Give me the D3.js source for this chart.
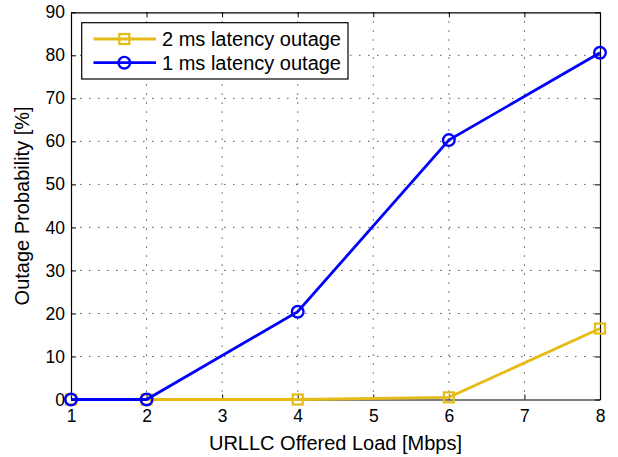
<!DOCTYPE html>
<html><head><meta charset="utf-8">
<script src="https://cdn.jsdelivr.net/npm/d3@7"></script>
<style>body{margin:0;background:#fff;} svg{display:block;} text{font-family:"Liberation Sans",Arial,sans-serif;}</style>
</head><body>
<svg id="chart" width="618" height="457"></svg>
<script>
const loads = [1, 2, 4, 6, 8];
const outage2ms = [0, 0, 0, 0.5, 16.5];
const outage1ms = [0, 0, 20.4, 60.3, 80.6];
const xTicks = [1, 2, 3, 4, 5, 6, 7, 8];
const yTicks = [0, 10, 20, 30, 40, 50, 60, 70, 80, 90];
const seriesNames = ["2 ms latency outage", "1 ms latency outage"];

const svg = d3.select("#chart");
const L = 71, R = 600, T = 12.3, B = 399.5;
const x = d3.scaleLinear().domain([1, 8]).range([L, R]);
const y = d3.scaleLinear().domain([0, 90]).range([B, T]);
const YEL = "#E6BB18", BLUE = "#0000FF";
const FONT = '"Liberation Sans",Arial,sans-serif';

// grid
const grid = svg.append("g");
grid.selectAll(".gx").data(xTicks.slice(1, -1)).enter().append("line")
  .attr("x1", d => x(d)).attr("x2", d => x(d)).attr("y1", T).attr("y2", B)
  .attr("stroke", "#555").attr("stroke-width", 1).attr("stroke-dasharray", "1.5,7.5");
grid.selectAll(".gy").data(yTicks.slice(1, -1)).enter().append("line")
  .attr("y1", d => y(d)).attr("y2", d => y(d)).attr("x1", L).attr("x2", R)
  .attr("stroke", "#555").attr("stroke-width", 1).attr("stroke-dasharray", "1.5,7.5");

// axes
const xb = svg.append("g").attr("transform", `translate(0,${B})`)
  .call(d3.axisBottom(x).tickValues(xTicks).tickFormat(d3.format("d")).tickSizeInner(-5).tickSizeOuter(0).tickPadding(10));
const xt = svg.append("g").attr("transform", `translate(0,${T})`)
  .call(d3.axisTop(x).tickValues(xTicks).tickFormat("").tickSizeInner(-5).tickSizeOuter(0));
const yl = svg.append("g").attr("transform", `translate(${L},0)`)
  .call(d3.axisLeft(y).tickValues(yTicks).tickFormat(d3.format("d")).tickSizeInner(-5).tickSizeOuter(0).tickPadding(6));
const yr = svg.append("g").attr("transform", `translate(${R},0)`)
  .call(d3.axisRight(y).tickValues(yTicks).tickFormat("").tickSizeInner(-5).tickSizeOuter(0));
[xb, xt, yl, yr].forEach(g => {
  g.selectAll("path").attr("stroke", "#000").attr("stroke-width", 1.2);
  g.selectAll("line").attr("stroke", "#000");
  g.selectAll("text").attr("fill", "#000").style("font-size", "17.5px").style("font-family", FONT);
});
xb.selectAll("text").attr("dy", "0.71em");

// axis labels
svg.append("text").attr("x", (L + R) / 2).attr("y", 449.5).attr("text-anchor", "middle")
  .style("font-size", "20px").text("URLLC Offered Load [Mbps]");
svg.append("text").attr("transform", `translate(28.5,${(T + B) / 2}) rotate(-90)`).attr("text-anchor", "middle")
  .style("font-size", "20px").text("Outage Probability [%]");

// series
const line = d3.line().x((d, i) => x(loads[i])).y(d => y(d));
svg.append("path").datum(outage2ms).attr("d", line).attr("fill", "none").attr("stroke", YEL).attr("stroke-width", 2.8);
svg.selectAll(".sq").data(outage2ms).enter().append("rect")
  .attr("x", (d, i) => x(loads[i]) - 5).attr("y", d => y(d) - 5).attr("width", 10).attr("height", 10)
  .attr("fill", "none").attr("stroke", YEL).attr("stroke-width", 2.2);
svg.append("path").datum(outage1ms).attr("d", line).attr("fill", "none").attr("stroke", BLUE).attr("stroke-width", 2.8);
svg.selectAll(".ci").data(outage1ms).enter().append("circle")
  .attr("cx", (d, i) => x(loads[i])).attr("cy", d => y(d)).attr("r", 5.8)
  .attr("fill", "none").attr("stroke", BLUE).attr("stroke-width", 2.4);

// legend
const lg = svg.append("g");
lg.append("rect").attr("x", 81.7).attr("y", 22.7).attr("width", 266.3).attr("height", 56.3)
  .attr("fill", "#fff").attr("stroke", "#000").attr("stroke-width", 1.2);
const rows = [39, 62.7];
const cols = [YEL, BLUE];
seriesNames.forEach((name, i) => {
  lg.append("line").attr("x1", 93.5).attr("x2", 156).attr("y1", rows[i]).attr("y2", rows[i])
    .attr("stroke", cols[i]).attr("stroke-width", 2.8);
  if (i === 0) {
    lg.append("rect").attr("x", 124.3 - 5).attr("y", rows[i] - 5).attr("width", 10).attr("height", 10)
      .attr("fill", "none").attr("stroke", YEL).attr("stroke-width", 2.2);
  } else {
    lg.append("circle").attr("cx", 124.3).attr("cy", rows[i]).attr("r", 5.8)
      .attr("fill", "none").attr("stroke", BLUE).attr("stroke-width", 2.4);
  }
  lg.append("text").attr("x", 162).attr("y", rows[i] + 7).style("font-size", "20px").attr("fill", "#000").text(name);
});
</script>
</body></html>
